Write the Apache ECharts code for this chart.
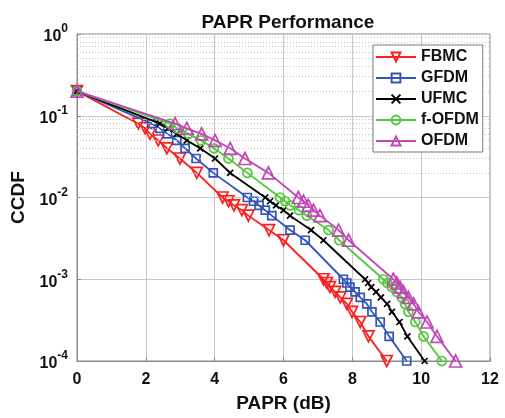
<!DOCTYPE html>
<html>
<head>
<meta charset="utf-8">
<script src="https://cdn.jsdelivr.net/npm/echarts@6/dist/echarts.min.js"></script>
<style>html,body{margin:0;padding:0;background:#fff;}#c{width:505px;height:418px;}</style>
</head>
<body>
<div id="c"></div>
<script>
// CCDF levels shared by all curves
const ccdfLevels = [0.2,
  0.08, 0.07, 0.06, 0.05, 0.04, 0.03, 0.02,
  0.01, 0.009, 0.008, 0.007, 0.006, 0.004, 0.003,
  0.001, 0.0009, 0.0008, 0.0007, 0.0006, 0.0005, 0.0004, 0.0003, 0.0002,
  0.0001];
// PAPR (dB) at each level
const fbmcX  = [0, 1.78, 1.98, 2.12, 2.36, 2.61, 2.99, 3.48, 4.23, 4.40, 4.56, 4.79, 4.98, 5.58, 6.00, 7.16, 7.26, 7.35, 7.50, 7.65, 7.84, 7.99, 8.23, 8.47, 9.00];
const gfdmX  = [0, 2.17, 2.41, 2.63, 2.90, 3.14, 3.46, 3.96, 4.95, 5.13, 5.29, 5.47, 5.66, 6.19, 6.63, 7.74, 7.84, 7.93, 8.08, 8.23, 8.42, 8.57, 8.81, 9.07, 9.58];
const ufmcX  = [0, 2.41, 2.65, 2.90, 3.19, 3.58, 4.01, 4.45, 5.47, 5.61, 5.78, 6.00, 6.19, 6.80, 7.16, 8.37, 8.46, 8.55, 8.69, 8.83, 9.01, 9.15, 9.37, 9.60, 10.1];
const fofdmX = [0, 2.70, 2.92, 3.24, 3.60, 3.98, 4.40, 4.95, 5.90, 6.05, 6.20, 6.45, 6.68, 7.31, 7.62, 8.90, 9.02, 9.15, 9.29, 9.44, 9.53, 9.63, 9.83, 10.07, 10.6];
const ofdmX  = [0, 2.85, 3.19, 3.62, 4.01, 4.45, 4.88, 5.56, 6.43, 6.58, 6.72, 6.87, 7.06, 7.60, 7.89, 9.19, 9.29, 9.39, 9.49, 9.63, 9.78, 9.92, 10.17, 10.46, 11.0];

const seriesNames = ['FBMC', 'GFDM', 'UFMC', 'f-OFDM', 'OFDM'];
const xTicks = [0, 2, 4, 6, 8, 10, 12];
const yDecades = [1e-4, 1e-3, 1e-2, 1e-1, 1];

const xs = [fbmcX, gfdmX, ufmcX, fofdmX, ofdmX];
const colors = ['#ff1e1e', '#3355b8', '#000000', '#52c93a', '#c246b8'];
const symbols = ['triangle', 'rect', 'path://M0,0L10,10M10,0L0,10', 'circle', 'triangle'];
const rot = [180, 0, 0, 0, 0];
const sizes = [11, 8, 6, 9, 12];

// minor log grid positions (2..9 x decade)
const minorGrid = [];
for (let d = -4; d < 0; d++) for (let m = 2; m <= 9; m++) minorGrid.push(+(m * Math.pow(10, d)).toPrecision(3));

const series = seriesNames.map((n, i) => ({
  name: n,
  type: 'line',
  data: xs[i].map((x, k) => [x, ccdfLevels[k]]),
  symbol: symbols[i],
  symbolRotate: rot[i],
  symbolSize: sizes[i],
  showAllSymbol: true,
  z: 3 + i,
  lineStyle: { color: colors[i], width: 1.8 },
  itemStyle: { color: 'rgba(0,0,0,0)', borderColor: colors[i], borderWidth: 1.7 },
  emphasis: { disabled: true },
  animation: false
}));
series.push({
  type: 'line', data: [], silent: true, z: 1,
  markLine: {
    silent: true, symbol: 'none', animation: false,
    label: { show: false },
    lineStyle: { type: [1, 2], color: '#c4c4c4', width: 1 },
    data: minorGrid.map(v => ({ yAxis: v }))
  }
});

const chart = echarts.init(document.getElementById('c'), null, { renderer: 'canvas' });
chart.setOption({
  animation: false,
  backgroundColor: '#fff',
  title: {
    text: 'PAPR Performance', left: 283, top: 8, textAlign: 'center',
    textStyle: { fontFamily: 'Liberation Sans', fontWeight: 'bold', fontSize: 19, color: '#111' }
  },
  grid: { left: 77, right: 15, top: 34, bottom: 51, show: true, borderColor: '#8a8a8a', borderWidth: 1, backgroundColor: 'transparent' },
  legend: {
    orient: 'vertical', left: 373, top: 45, z: 30,
    data: seriesNames,
    itemWidth: 40, itemHeight: 11, itemGap: 5,
    padding: [4, 4, 3, 2],
    backgroundColor: '#fff', borderColor: '#777', borderWidth: 1,
    textStyle: { fontFamily: 'Liberation Sans', fontWeight: 'bold', fontSize: 16, color: '#111', lineHeight: 15 }
  },
  xAxis: {
    type: 'value', min: 0, max: 12, interval: 2,
    name: 'PAPR (dB)', nameLocation: 'middle', nameGap: 33,
    nameTextStyle: { fontFamily: 'Liberation Sans', fontWeight: 'bold', fontSize: 19, color: '#111' },
    axisLine: { show: true, lineStyle: { color: '#8a8a8a' } },
    axisTick: { show: true, inside: true, length: 4, lineStyle: { color: '#8a8a8a' } },
    axisLabel: { fontFamily: 'Liberation Sans', fontWeight: 'bold', fontSize: 16, color: '#111', margin: 11,
      formatter: v => xTicks.includes(v) ? String(v) : '' },
    splitLine: { show: true, lineStyle: { color: '#c8c8c8', width: 1 } }
  },
  yAxis: {
    type: 'log', logBase: 10, min: yDecades[0], max: yDecades[yDecades.length - 1],
    name: 'CCDF', nameLocation: 'middle', nameGap: 42,
    nameTextStyle: { fontFamily: 'Liberation Sans', fontWeight: 'bold', fontSize: 19, color: '#111' },
    axisLine: { show: true, lineStyle: { color: '#8a8a8a' } },
    axisTick: { show: true, inside: true, length: 4, lineStyle: { color: '#8a8a8a' } },
    axisLabel: {
      margin: 9,
      formatter: v => '{b|10}{s|' + Math.round(Math.log10(v)) + '}',
      rich: {
        b: { fontFamily: 'Liberation Sans', fontWeight: 'bold', fontSize: 16, color: '#111', verticalAlign: 'bottom', lineHeight: 22 },
        s: { fontFamily: 'Liberation Sans', fontWeight: 'bold', fontSize: 12, color: '#111', verticalAlign: 'top', lineHeight: 12 }
      }
    },
    splitLine: { show: true, lineStyle: { color: '#c8c8c8', width: 1 } }
  },
  series: series
});
</script>
</body>
</html>
